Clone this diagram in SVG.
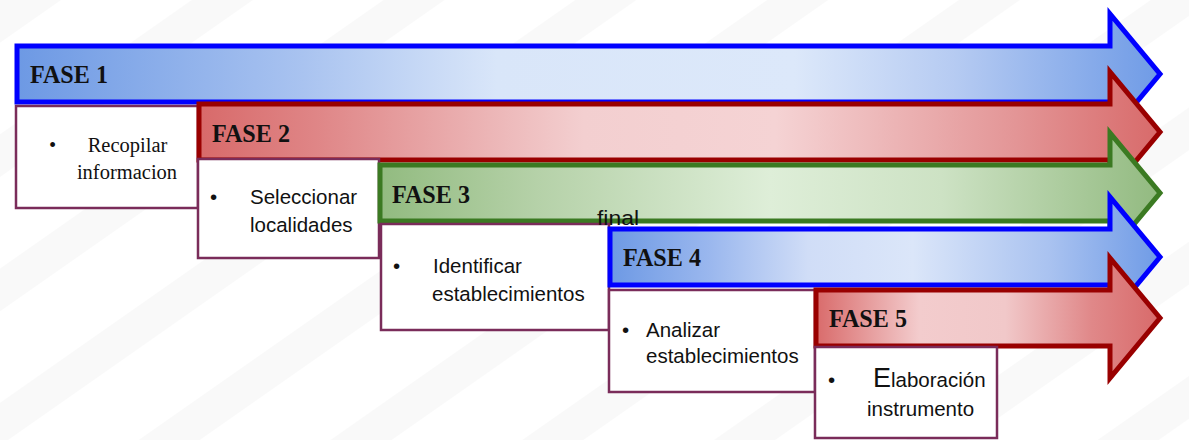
<svg xmlns="http://www.w3.org/2000/svg" width="1189" height="440" viewBox="0 0 1189 440">
<defs>
<pattern id="bg" width="110" height="110" patternUnits="userSpaceOnUse" patternTransform="rotate(-35)">
<rect width="110" height="110" fill="#ffffff"/>
<rect y="0" width="110" height="35" fill="#f9f9f9"/>
</pattern>
<linearGradient id="gBlue1" x1="0" y1="0" x2="1" y2="0">
<stop offset="0" stop-color="#6d99e4"/>
<stop offset="0.25" stop-color="#a9c3f0"/>
<stop offset="0.42" stop-color="#d9e6f9"/>
<stop offset="0.68" stop-color="#dce8fa"/>
<stop offset="0.82" stop-color="#b6cbf2"/>
<stop offset="1" stop-color="#6f9be6"/>
</linearGradient>
<linearGradient id="gBlue4" x1="0" y1="0" x2="1" y2="0">
<stop offset="0" stop-color="#6d99e4"/>
<stop offset="0.18" stop-color="#9ab7ee"/>
<stop offset="0.36" stop-color="#d0ddf7"/>
<stop offset="0.55" stop-color="#dbe6f9"/>
<stop offset="0.8" stop-color="#a9c2f0"/>
<stop offset="1" stop-color="#6f9be6"/>
</linearGradient>
<linearGradient id="gRed2" x1="0" y1="0" x2="1" y2="0">
<stop offset="0" stop-color="#d86a6a"/>
<stop offset="0.12" stop-color="#df8586"/>
<stop offset="0.4" stop-color="#f3cfd0"/>
<stop offset="0.6" stop-color="#f5d3d4"/>
<stop offset="0.85" stop-color="#e39596"/>
<stop offset="1" stop-color="#d86a6a"/>
</linearGradient>
<linearGradient id="gRed5" x1="0" y1="0" x2="1" y2="0">
<stop offset="0" stop-color="#d96b6b"/>
<stop offset="0.3" stop-color="#f3cccd"/>
<stop offset="0.55" stop-color="#f1c8c9"/>
<stop offset="0.8" stop-color="#e08889"/>
<stop offset="1" stop-color="#d86a6a"/>
</linearGradient>
<linearGradient id="gGreen3" x1="0" y1="0" x2="1" y2="0">
<stop offset="0" stop-color="#92bb80"/>
<stop offset="0.2" stop-color="#b5d1a8"/>
<stop offset="0.5" stop-color="#deeed8"/>
<stop offset="0.72" stop-color="#cde2c4"/>
<stop offset="1" stop-color="#92ba80"/>
</linearGradient>
</defs>
<style>
.arrow{stroke-width:5;stroke-linejoin:miter;stroke-miterlimit:10}
.blue{stroke:#0000ff}
.red{stroke:#990000}
.green{stroke:#3b7a22}
.box{fill:#ffffff;stroke:#7a2c5a;stroke-width:2.5}
.fase{font-family:"Liberation Serif","Times New Roman",serif;font-weight:bold;font-size:25px;fill:#111111}
.serif{font-family:"Liberation Serif","Times New Roman",serif;font-size:20.5px;fill:#111111}
.sans{font-family:"Liberation Sans",Arial,sans-serif;font-size:20.5px;fill:#111111}
</style>
<rect width="1189" height="440" fill="url(#bg)"/>

<g id="fase1">
<path class="arrow blue" fill="url(#gBlue1)" d="M17,46 H1110 V14 L1160,74 L1110,134 V102 H17 Z"/>
<text class="fase" x="30" y="83" textLength="78" lengthAdjust="spacingAndGlyphs">FASE 1</text>
</g>
<g id="box1">
<rect class="box" x="16" y="106" width="182" height="102"/>
<text class="serif" x="49" y="152">•</text>
<text class="serif" x="127.5" y="152" text-anchor="middle">Recopilar</text>
<text class="serif" x="127" y="179" text-anchor="middle">informacion</text>
</g>

<g id="fase2">
<path class="arrow red" fill="url(#gRed2)" d="M199,104 H1110 V72 L1160,132 L1110,192 V160 H199 Z"/>
<text class="fase" x="212" y="142" textLength="78" lengthAdjust="spacingAndGlyphs">FASE 2</text>
</g>
<g id="box2">
<rect class="box" x="198" y="159" width="181" height="99"/>
<text class="sans" x="210" y="204">•</text>
<text class="sans" x="250" y="204">Seleccionar</text>
<text class="sans" x="250" y="232">localidades</text>
</g>

<g id="fase3">
<path class="arrow green" fill="url(#gGreen3)" d="M380,165 H1110 V133 L1160,193 L1110,253 V221 H380 Z"/>
<text class="fase" x="392" y="203" textLength="78" lengthAdjust="spacingAndGlyphs">FASE 3</text>
</g>
<g id="box3">
<rect class="box" x="381" y="224" width="228" height="106"/>
<text class="sans" x="393" y="273">•</text>
<text class="sans" x="433" y="273">Identificar</text>
<text class="sans" x="432" y="301">establecimientos</text>
</g>

<g id="fase4">
<path class="arrow blue" fill="url(#gBlue4)" d="M610,229 H1110 V197 L1160,257 L1110,317 V285 H610 Z"/>
<text class="fase" x="623" y="266" textLength="78" lengthAdjust="spacingAndGlyphs">FASE 4</text>
</g>
<g id="box4">
<rect class="box" x="609" y="290" width="206" height="102"/>
<text class="sans" x="622" y="337">•</text>
<text class="sans" x="646" y="337">Analizar</text>
<text class="sans" x="646" y="363">establecimientos</text>
</g>

<g id="fase5">
<path class="arrow red" fill="url(#gRed5)" d="M816,290 H1110 V258 L1160,318 L1110,378 V346 H816 Z"/>
<text class="fase" x="829" y="327" textLength="78" lengthAdjust="spacingAndGlyphs">FASE 5</text>
</g>
<g id="box5">
<rect class="box" x="815" y="347" width="182" height="91"/>
<text class="sans" x="828" y="387">•</text>
<text class="sans" x="873" y="387"><tspan font-size="27px">E</tspan>laboración</text>
<text class="sans" x="867" y="416">instrumento</text>
</g>

<g id="labels">
<text class="sans" x="597" y="225" font-size="23px" textLength="42" lengthAdjust="spacingAndGlyphs">final</text>
</g>
<g id="connectors"/>
</svg>
